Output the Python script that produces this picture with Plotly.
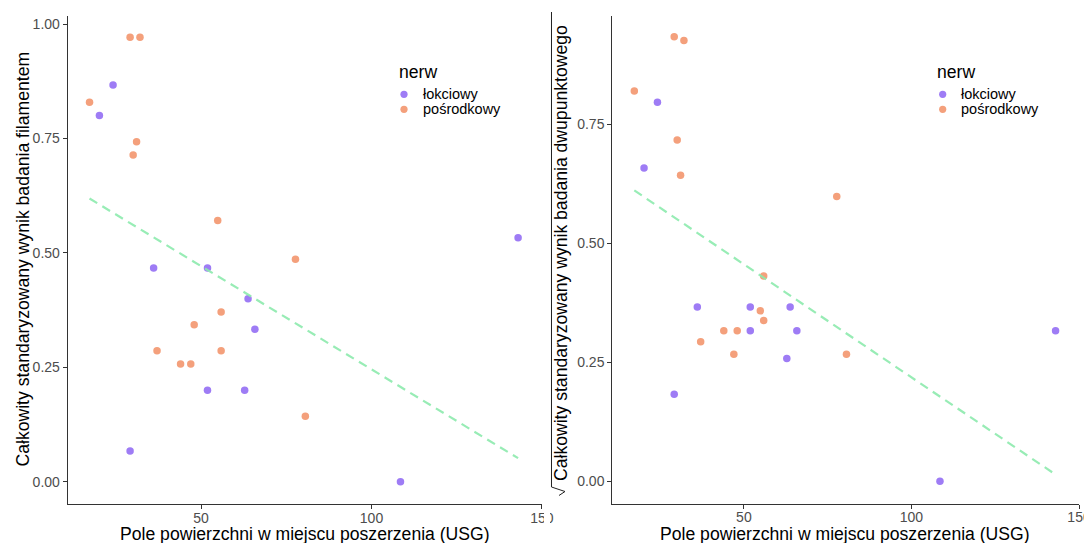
import numpy as np
import plotly.graph_objects as go

W, H = 1084, 543

# Pole powierzchni w miejscu poszerzenia (USG), per nerve
area_lokciowy = [20.2, 24.2, 29.2, 36.1, 51.9, 51.9, 62.8, 63.8, 65.8, 108.5, 143.0]
area_posrodkowy = [17.3, 29.2, 30.1, 31.1, 32.1, 37.1, 44.0, 47.0, 48.0, 54.9, 55.9, 55.9, 77.7, 80.6]

# Standardised filament test score
filament_lokciowy = [0.800, 0.867, 0.067, 0.467, 0.467, 0.200, 0.200, 0.400, 0.333, 0.000, 0.533]
filament_posrodkowy = [0.829, 0.971, 0.714, 0.743, 0.971, 0.286, 0.257, 0.257, 0.343, 0.571, 0.371, 0.286, 0.486, 0.143]

# Standardised two-point discrimination score
dwupunkt_lokciowy = [0.658, 0.796, 0.183, 0.366, 0.366, 0.316, 0.258, 0.366, 0.316, 0.000, 0.316]
dwupunkt_posrodkowy = [0.820, 0.934, 0.717, 0.643, 0.926, 0.293, 0.316, 0.267, 0.316, 0.358, 0.431, 0.338, 0.598, 0.267]

nerves = ["łokciowy", "pośrodkowy"]
colors = {"łokciowy": "#9E7CF5", "pośrodkowy": "#F4A07C"}
x_ticks = [50, 100, 150]
y_ticks = [0.0, 0.25, 0.5, 0.75, 1.0]

x_title = "Pole powierzchni w miejscu poszerzenia (USG)"
y_title_left = "Całkowity standaryzowany wynik badania filamentem"
y_title_right = "Całkowity standaryzowany wynik badania dwupunktowego"

FONT = "Liberation Sans, Arial, sans-serif"


def px(x):
    return min(x / W, 1.0)


def py(y):
    return 1 - y / H


fig = go.Figure()

panels = [
    ("x", "y", {"łokciowy": filament_lokciowy, "pośrodkowy": filament_posrodkowy}),
    ("x2", "y2", {"łokciowy": dwupunkt_lokciowy, "pośrodkowy": dwupunkt_posrodkowy}),
]
areas = {"łokciowy": area_lokciowy, "pośrodkowy": area_posrodkowy}

for xa, ya, scores in panels:
    for nerve in nerves:
        fig.add_trace(go.Scatter(
            x=areas[nerve], y=scores[nerve], mode="markers", name=nerve,
            xaxis=xa, yaxis=ya, showlegend=False,
            marker=dict(color=colors[nerve], size=7.5, line=dict(width=0)),
        ))
    # linear fit over all points of the panel
    xs = np.array(area_lokciowy + area_posrodkowy)
    ys = np.array(scores["łokciowy"] + scores["pośrodkowy"])
    slope, intercept = np.polyfit(xs, ys, 1)
    xl = np.array([xs.min(), xs.max()])
    fig.add_trace(go.Scatter(
        x=xl, y=intercept + slope * xl, mode="lines", xaxis=xa, yaxis=ya,
        showlegend=False, opacity=0.9,
        line=dict(color="#8DEBAE", width=2.2, dash="9px,6px"),
    ))

axis_common = dict(
    showgrid=False, zeroline=False, showline=True, linecolor="#333333",
    linewidth=1.1, ticks="outside", ticklen=4, tickwidth=1, tickcolor="#333333",
    tickfont=dict(family=FONT, size=14, color="#4D4D4D"), mirror=False,
    automargin=False,
)

fig.update_layout(
    width=W, height=H, autosize=False,
    margin=dict(l=0, r=0, t=0, b=0, pad=0, autoexpand=False),
    paper_bgcolor="white", plot_bgcolor="white",
    showlegend=False,
    xaxis=dict(domain=[px(67.7), px(542.3)], range=[10.9, 150.1],
               tickvals=x_ticks, anchor="y", ticklabelstandoff=-3,
               ticklabeloverflow="allow", **axis_common),
    yaxis=dict(domain=[py(503.9), py(15.6)], range=[-0.0485, 1.0185],
               tickvals=y_ticks, tickformat=".2f", anchor="x", **axis_common),
    xaxis2=dict(domain=[px(612.3), px(1079.2)], range=[10.73, 150.05],
                tickvals=x_ticks, anchor="y2", ticklabelstandoff=-3,
                ticklabeloverflow="allow", **axis_common),
    yaxis2=dict(domain=[py(503.5), py(15.7)], range=[-0.0466, 0.978],
                tickvals=y_ticks[:-1], tickformat=".2f", anchor="x2", **axis_common),
)

ann = []
title_font = dict(family=FONT, size=17.6, color="black")
ann.append(dict(text=x_title, x=px(305), y=py(534), xref="paper", yref="paper",
                showarrow=False, xanchor="center", yanchor="middle", font=title_font))
ann.append(dict(text=x_title, x=px(845.3), y=py(534), xref="paper", yref="paper",
                showarrow=False, xanchor="center", yanchor="middle", font=title_font))
ann.append(dict(text=y_title_left, x=px(22), y=py(259.5), xref="paper", yref="paper",
                showarrow=False, xanchor="center", yanchor="middle", textangle=-90,
                font=title_font))
ann.append(dict(text=y_title_right, x=px(561), y=py(253), xref="paper", yref="paper",
                showarrow=False, xanchor="center", yanchor="middle", textangle=-90,
                font=title_font))

shapes = []
# legends: "nerw" key placed inside each panel
for tx, dx, lx in [(396.7, 404, 420.7), (935, 942.7, 959.3)]:
    ann.append(dict(text="nerw", x=px(tx), y=py(71.5), xref="paper", yref="paper",
                    showarrow=False, xanchor="left", yanchor="middle",
                    font=dict(family=FONT, size=17.6, color="black")))
    for i, nerve in enumerate(nerves):
        yy = 94.3 + 15 * i
        shapes.append(dict(type="circle", xref="paper", yref="paper",
                           xsizemode="pixel", ysizemode="pixel",
                           xanchor=px(dx), yanchor=py(yy),
                           x0=-3.6, x1=3.6, y0=-3.6, y1=3.6,
                           fillcolor=colors[nerve], line=dict(width=0)))
        ann.append(dict(text=nerve, x=px(lx), y=py(yy), xref="paper", yref="paper",
                        showarrow=False, xanchor="left", yanchor="middle",
                        font=dict(family=FONT, size=14.5, color="black")))

# the left panel ends where the right one begins
shapes.append(dict(type="rect", xref="paper", yref="paper", layer="above",
                   x0=px(544), x1=px(550), y0=py(543), y1=py(498),
                   fillcolor="white", line=dict(width=0)))


# square-root sign around the right y-axis title (rotated)
def pth(points):
    return "M " + " L ".join(f"{px(a):.5f},{py(b):.5f}" for a, b in points)


shapes.append(dict(type="path", xref="paper", yref="paper", layer="above",
                   path=pth([(551.5, 12), (551.5, 487), (565, 491.5), (559, 495.5)]),
                   line=dict(color="#222222", width=1)))

fig.update_layout(annotations=ann, shapes=shapes)

fig.write_html("out.html", config={"responsive": False})
